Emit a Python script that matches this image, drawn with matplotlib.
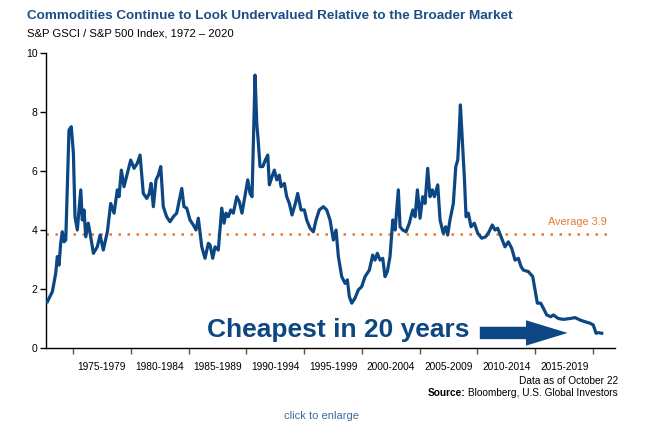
import matplotlib
matplotlib.use("Agg")
import matplotlib.pyplot as plt
from matplotlib.patches import FancyArrow

# valores (ano decimal, razão GSCI / S&P 500)
anos = [
    1972.78, 1973.21, 1973.50, 1973.64, 1973.79, 1973.93, 1974.07, 1974.22, 1974.37, 1974.51,
    1974.65, 1974.85, 1975.03, 1975.17, 1975.37, 1975.52, 1975.67, 1975.80, 1975.95, 1976.10,
    1976.32, 1976.53, 1976.76, 1977.10, 1977.34, 1977.62, 1977.97, 1978.26, 1978.55, 1978.83,
    1978.98, 1979.18, 1979.41, 1979.70, 1979.99, 1980.28, 1980.56, 1980.80, 1981.08, 1981.38,
    1981.60, 1981.75, 1981.95, 1982.18, 1982.38, 1982.59, 1982.81, 1983.10, 1983.39, 1983.68,
    1983.97, 1984.20, 1984.41, 1984.60, 1984.84, 1985.12, 1985.41, 1985.64, 1985.84, 1986.14,
    1986.42, 1986.71, 1986.86, 1987.09, 1987.29, 1987.57, 1987.87, 1988.07, 1988.24, 1988.44,
    1988.65, 1988.87, 1989.17, 1989.39, 1989.62, 1989.82, 1990.12, 1990.32, 1990.49, 1990.60,
    1990.75, 1990.90, 1991.04, 1991.18, 1991.42, 1991.64, 1991.85, 1991.99, 1992.22, 1992.42,
    1992.63, 1992.85, 1993.00, 1993.29, 1993.49, 1993.72, 1993.95, 1994.24, 1994.44, 1994.73,
    1995.02, 1995.22, 1995.51, 1995.80, 1996.03, 1996.31, 1996.66, 1996.95, 1997.24, 1997.53,
    1997.76, 1997.96, 1998.25, 1998.54, 1998.74, 1998.91, 1999.12, 1999.40, 1999.69, 1999.98,
    2000.27, 2000.64, 2000.93, 2001.13, 2001.33, 2001.57, 2001.80, 2002.00, 2002.20, 2002.43,
    2002.67, 2002.87, 2003.15, 2003.30, 2003.53, 2003.82, 2004.10, 2004.40, 2004.60, 2004.80,
    2005.03, 2005.26, 2005.46, 2005.69, 2005.89, 2006.09, 2006.27, 2006.56, 2006.76, 2007.04,
    2007.25, 2007.42, 2007.62, 2007.91, 2008.12, 2008.29, 2008.40, 2008.52, 2008.69, 2008.86,
    2009.01, 2009.21, 2009.44, 2009.73, 2010.02, 2010.37, 2010.71, 2011.00, 2011.28, 2011.52,
    2011.75, 2012.04, 2012.38, 2012.67, 2012.96, 2013.25, 2013.54, 2013.77, 2013.97, 2014.40,
    2014.78, 2014.98, 2015.18, 2015.47, 2015.70, 2015.99, 2016.34, 2016.56, 2016.99, 2017.43,
    2018.01, 2018.44, 2018.87, 2019.31, 2019.74, 2020.02, 2020.26, 2020.45, 2020.75,
]
razao = [
    1.57, 1.91, 2.53, 3.10, 2.81, 3.55, 3.94, 3.60, 3.66, 5.58,
    7.39, 7.50, 6.60, 4.45, 4.00, 4.68, 5.36, 4.34, 4.68, 3.77,
    4.23, 3.77, 3.21, 3.43, 3.83, 3.32, 3.94, 4.90, 4.57, 5.36,
    5.13, 6.03, 5.47, 5.92, 6.37, 6.09, 6.26, 6.54, 5.24, 5.07,
    5.24, 5.58, 4.79, 5.70, 5.86, 6.15, 4.79, 4.45, 4.28, 4.45,
    4.57, 5.02, 5.41, 4.79, 4.74, 4.34, 4.17, 4.00, 4.40, 3.43,
    3.04, 3.55, 3.49, 3.04, 3.43, 3.32, 4.74, 4.23, 4.57, 4.45,
    4.68, 4.57, 5.13, 4.96, 4.57, 5.02, 5.70, 5.24, 5.13, 6.94,
    9.25, 7.62, 6.94, 6.15, 6.15, 6.37, 6.54, 5.53, 5.81, 6.03,
    5.70, 5.86, 5.47, 5.58, 5.13, 4.90, 4.51, 4.90, 5.24, 4.68,
    4.68, 4.34, 4.06, 3.94, 4.34, 4.68, 4.79, 4.68, 4.34, 3.66,
    4.00, 3.10, 2.42, 2.19, 2.31, 1.74, 1.52, 1.69, 1.97, 2.08,
    2.42, 2.64, 3.15, 2.98, 3.21, 2.98, 3.04, 2.42, 2.59, 3.10,
    4.34, 4.00, 5.36, 4.11, 4.00, 3.94, 4.23, 4.68, 4.45, 5.36,
    4.40, 5.13, 4.90, 6.09, 5.13, 5.36, 5.13, 5.53, 4.34, 3.89,
    4.11, 3.83, 4.34, 4.90, 6.15, 6.37, 7.16, 8.24, 7.05, 5.81,
    4.45, 4.57, 4.11, 4.23, 3.89, 3.72, 3.77, 3.94, 4.17, 4.00,
    4.06, 3.77, 3.43, 3.60, 3.38, 2.98, 3.04, 2.76, 2.64, 2.59,
    2.42, 1.97, 1.52, 1.52, 1.35, 1.12, 1.06, 1.12, 1.00, 0.97,
    1.00, 1.03, 0.95, 0.89, 0.84, 0.78, 0.50, 0.52, 0.50,
]

media = 3.87
rotulo_media = "Average 3.9"
limites_periodo = [1975, 1980, 1985, 1990, 1995, 2000, 2005, 2010, 2015, 2020]
rotulos_periodo = ["1975-1979", "1980-1984", "1985-1989", "1990-1994", "1995-1999",
                   "2000-2004", "2005-2009", "2010-2014", "2015-2019"]
yticks = [0, 2, 4, 6, 8, 10]

AZUL = "#0c4783"
LARANJA = "#e57a32"
plt.rcParams["font.family"] = ["Liberation Sans", "DejaVu Sans"]

fig = plt.figure(figsize=(6.52, 4.28), dpi=100)
ax = fig.add_axes([46 / 652, 1 - 348 / 428, (615 - 46) / 652, (348 - 53) / 428])

ax.plot(anos, razao, color=AZUL, lw=2.3, solid_joinstyle="round", zorder=3)
ax.plot([1972.66, 2021.2], [media, media], color=LARANJA, lw=1.8,
        linestyle=(0, (1, 2.6)), zorder=2)
ax.text(2021.2, media + 0.22, rotulo_media, color=LARANJA, fontsize=7.8,
        ha="right", va="bottom")

ax.set_xlim(1972.66, 2021.9)
ax.set_ylim(0, 10)
for lado in ["top", "right"]:
    ax.spines[lado].set_visible(False)
ax.spines["left"].set_linewidth(1.0)
ax.spines["bottom"].set_linewidth(1.0)

ax.set_yticks(yticks)
ax.set_yticklabels([str(v) for v in yticks])
ax.tick_params(axis="y", length=4, width=1, pad=2, labelsize=7.5)

# ticks nos limites, rótulos no meio de cada período
ax.set_xticks(limites_periodo)
ax.set_xticklabels([])
ax.tick_params(axis="x", which="major", length=4, width=1, color="#555555")
meios = [a + 2.5 for a in limites_periodo[:-1]]
ax.set_xticks(meios, minor=True)
ax.set_xticklabels(rotulos_periodo, minor=True)
ax.tick_params(axis="x", which="minor", length=0, pad=10, labelsize=7.3)

# seta "mais barato em 20 anos"
ax.text(1986.6, 0.6, "Cheapest in 20 years", color=AZUL, fontsize=19,
        fontweight="bold", ha="left", va="center", zorder=4)
ax.add_patch(FancyArrow(2010.2, 0.51, 7.6, 0, width=0.42, head_width=0.86,
                        head_length=3.6, length_includes_head=True,
                        color=AZUL, lw=0, zorder=4))

fig.text(27 / 652, 1 - 16 / 428, "Commodities Continue to Look Undervalued Relative to the Broader Market",
         color="#1b4f86", fontsize=9.7, fontweight="bold", ha="left", va="center")
fig.text(27 / 652, 1 - 34 / 428, "S&P GSCI / S&P 500 Index, 1972 \u2013 2020",
         color="black", fontsize=8.1, ha="left", va="center")

fig.text(618 / 652, 1 - 381 / 428, "Data as of October 22", fontsize=7.3,
         ha="right", va="center")
fonte_txt = fig.text(618 / 652, 1 - 393 / 428, " Bloomberg, U.S. Global Investors",
                     fontsize=7.3, ha="right", va="center")
r = fig.canvas.get_renderer()
bb = fonte_txt.get_window_extent(renderer=r)
fig.text(bb.x0 / fig.bbox.width, 1 - 393 / 428, "Source:", fontsize=7.3,
         fontweight="bold", ha="right", va="center")

fig.text(322 / 652, 1 - 416 / 428, "click to enlarge", color="#3d6d9e",
         fontsize=8, ha="center", va="center")

fig.savefig("out.png", dpi=100)
